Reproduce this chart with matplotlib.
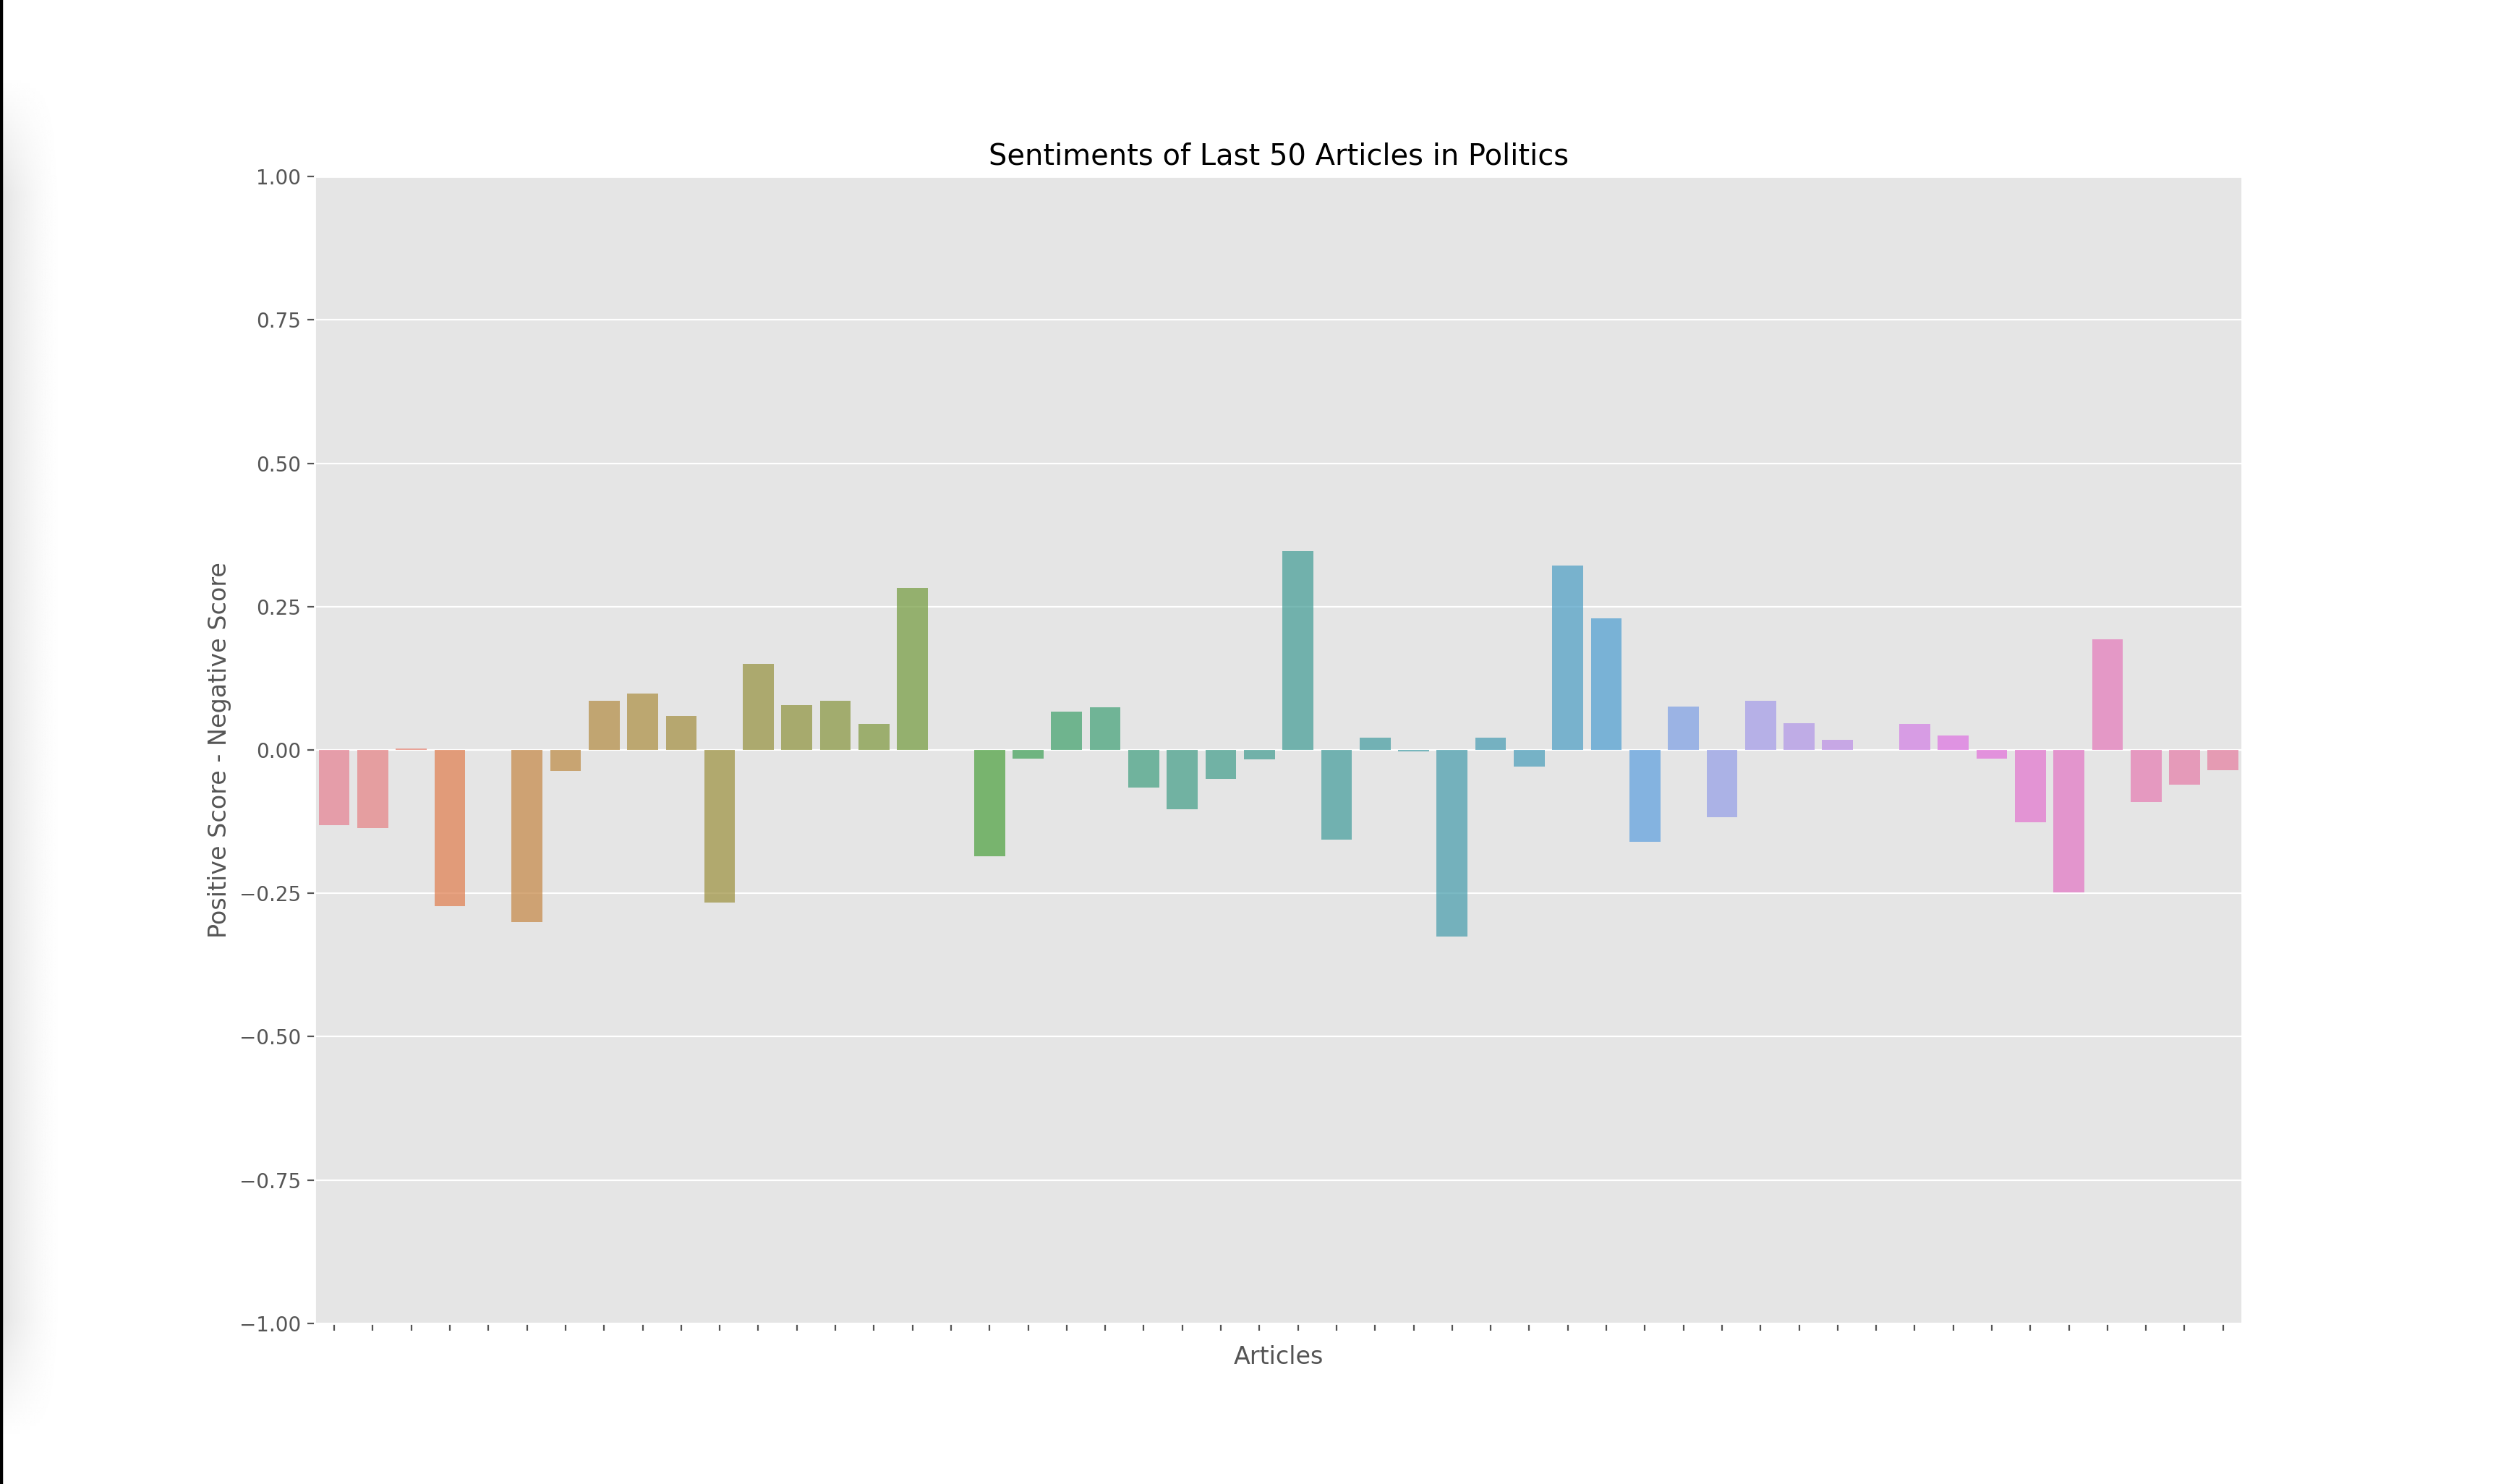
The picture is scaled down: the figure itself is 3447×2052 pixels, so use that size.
import numpy as np
import matplotlib
matplotlib.use("Agg")
import matplotlib.pyplot as plt
from matplotlib.lines import Line2D
import seaborn as sns

# ---- data ----
articles = list(range(50))
scores = [
    -0.131, -0.136, 0.003, -0.273, 0.000, -0.300, -0.036, 0.086, 0.098, 0.059,
    -0.266, 0.150, 0.078, 0.086, 0.045, 0.283, 0.000, -0.186, -0.015, 0.067,
    0.075, -0.065, -0.103, -0.051, -0.016, 0.347, -0.157, 0.021, -0.003, -0.325,
    0.022, -0.029, 0.322, 0.230, -0.160, 0.076, -0.117, 0.086, 0.047, 0.018,
    0.000, 0.046, 0.025, -0.015, -0.126, -0.249, 0.193, -0.091, -0.060, -0.035,
]
title = "Sentiments of Last 50 Articles in Politics"
xlabel = "Articles"
ylabel = "Positive Score - Negative Score"

plt.style.use("ggplot")
fig = plt.figure(figsize=(17.24, 10.26), dpi=200)
fig.subplots_adjust(left=0.1263, right=0.8992, top=0.881, bottom=0.1083)

# screenshot-like left border and soft shadow
shadow_ax = fig.add_axes([0.0, 0.0, 0.026, 1.0], zorder=-5)
gx = np.linspace(0, 1, 200)
gy = np.linspace(0, 1, 400)
X, Y = np.meshgrid(gx, gy)
vert = np.clip(np.minimum((Y - 0.03) / 0.08, (0.95 - Y) / 0.08), 0, 1)
shade = 1.0 - 0.11 * (1 - X) ** 1.6 * vert
shadow_ax.imshow(shade, cmap="gray", vmin=0, vmax=1, aspect="auto",
                 extent=[0, 1, 0, 1], origin="lower", interpolation="bilinear")
shadow_ax.set_axis_off()
fig.add_artist(Line2D([0.0005, 0.0005], [0, 1], transform=fig.transFigure,
                      color="black", linewidth=1.6))

ax = fig.add_subplot(111)
colors = [sns.desaturate(c, 0.75) for c in sns.color_palette("husl", len(articles))]
ax.bar(articles, scores, width=0.8, color=colors, linewidth=0, alpha=0.72, zorder=2)
ax.set_xlim(-0.5, len(articles) - 0.5)
ax.set_ylim(-1, 1)
ax.set_yticks([-1.0, -0.75, -0.5, -0.25, 0.0, 0.25, 0.5, 0.75, 1.0])
ax.set_yticklabels(["\u22121.00", "\u22120.75", "\u22120.50", "\u22120.25", "0.00",
                    "0.25", "0.50", "0.75", "1.00"])
ax.set_xticks(articles)
ax.set_xticklabels([])
ax.grid(axis="x", visible=False)
ax.set_title(title, fontsize=14.4, color="black")
ax.set_xlabel(xlabel, fontsize=12, color="#555555")
ax.set_ylabel(ylabel, fontsize=12, color="#555555")

fig.savefig("out.png", dpi=200)
